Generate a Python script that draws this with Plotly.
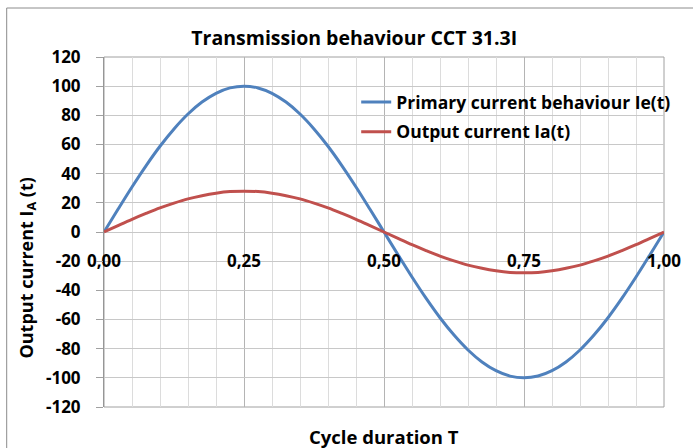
import plotly.graph_objects as go

# Data
cycle = [0.000, 0.025, 0.050, 0.075, 0.100, 0.125, 0.150, 0.175, 0.200, 0.225,
         0.250, 0.275, 0.300, 0.325, 0.350, 0.375, 0.400, 0.425, 0.450, 0.475,
         0.500, 0.525, 0.550, 0.575, 0.600, 0.625, 0.650, 0.675, 0.700, 0.725,
         0.750, 0.775, 0.800, 0.825, 0.850, 0.875, 0.900, 0.925, 0.950, 0.975, 1.000]
primary_ie = [0.0, 15.6, 30.9, 45.4, 58.8, 70.7, 80.9, 89.1, 95.1, 98.8,
              100.0, 98.8, 95.1, 89.1, 80.9, 70.7, 58.8, 45.4, 30.9, 15.6,
              0.0, -15.6, -30.9, -45.4, -58.8, -70.7, -80.9, -89.1, -95.1, -98.8,
              -100.0, -98.8, -95.1, -89.1, -80.9, -70.7, -58.8, -45.4, -30.9, -15.6, 0.0]
output_ia = [0.0, 4.4, 8.7, 12.7, 16.5, 19.8, 22.7, 24.9, 26.6, 27.7,
             28.0, 27.7, 26.6, 24.9, 22.7, 19.8, 16.5, 12.7, 8.7, 4.4,
             0.0, -4.4, -8.7, -12.7, -16.5, -19.8, -22.7, -24.9, -26.6, -27.7,
             -28.0, -27.7, -26.6, -24.9, -22.7, -19.8, -16.5, -12.7, -8.7, -4.4, 0.0]
x_ticks = [0.0, 0.25, 0.5, 0.75, 1.0]
x_tick_labels = ["0,00", "0,25", "0,50", "0,75", "1,00"]
y_ticks = list(range(-120, 121, 20))

FONT = "Open Sans"
W, H = 693, 448
ML, MR, MT, MB = 104, 25, 57, 41
PW, PH = W - ML - MR, H - MT - MB

fig = go.Figure()
fig.add_trace(go.Scatter(x=cycle, y=primary_ie, mode="lines", legendgroup="ie",
                         name="<b>Primary current behaviour Ie(t)</b>",
                         line=dict(color="#4F81BD", width=3, shape="spline")))
fig.add_trace(go.Scatter(x=cycle, y=output_ia, mode="lines", legendgroup="ia",
                         name="<b>Output current Ia(t)</b>",
                         line=dict(color="#C0504D", width=3, shape="spline")))

def px_x(p):
    return (p - ML) / PW

def px_y(p):
    return 1 - (p - MT) / PH

fig.update_layout(
    width=W, height=H,
    margin=dict(l=ML, r=MR, t=MT, b=MB, pad=0),
    paper_bgcolor="white", plot_bgcolor="white",
    font=dict(family=FONT, color="black"),
    title=dict(text="<b>Transmission behaviour CCT 31.3I</b>", x=px_x(356), xanchor="center",
               xref="paper", y=1 - 38 / H, yanchor="middle",
               font=dict(size=19.5, family=FONT, color="black")),
    showlegend=True,
    legend=dict(x=px_x(358), y=px_y(84), xanchor="left", yanchor="top",
                bgcolor="rgba(0,0,0,0)", font=dict(size=17.5, family=FONT, color="black"),
                itemwidth=30, tracegroupgap=4),
    xaxis=dict(range=[0, 1], tickvals=x_ticks, ticktext=["<b>%s</b>" % t for t in x_tick_labels],
               anchor="free", position=0.5, showline=False, zeroline=False,
               showgrid=True, gridcolor="#B4B4B4", gridwidth=1,
               minor=dict(dtick=0.05, showgrid=True, gridcolor="#DCDCDC", gridwidth=1),
               ticks="", ticklabelstandoff=17, tickfont=dict(size=17, family=FONT, color="black"),
               fixedrange=True),
    yaxis=dict(range=[-120, 120], tickvals=y_ticks, ticktext=["<b>%d</b>" % v for v in y_ticks],
               showgrid=True, gridcolor="#C8C8C8", gridwidth=1, zeroline=False,
               showline=True, linecolor="#969696", linewidth=1, mirror=False,
               ticks="outside", ticklen=7, tickcolor="#A0A0A0", tickwidth=1,
               ticklabelstandoff=12, tickfont=dict(size=17, family=FONT, color="black"),
               fixedrange=True),
    annotations=[
        dict(text="<b>Cycle duration T</b>", x=0.5, xref="paper", y=px_y(436), yref="paper",
             xanchor="center", yanchor="middle", showarrow=False,
             font=dict(size=18.5, family=FONT, color="black")),
        dict(text="<b>Output current I<sub>A</sub> (t)</b>", x=px_x(26), xref="paper",
             y=px_y(268), yref="paper", xanchor="center", yanchor="middle", textangle=-90,
             showarrow=False, font=dict(size=18, family=FONT, color="black")),
    ],
    shapes=[
        dict(type="rect", xref="paper", yref="paper", x0=px_x(6), x1=px_x(720), y0=px_y(470), y1=px_y(8),
             line=dict(color="#8C8C8C", width=1), fillcolor="rgba(0,0,0,0)", layer="below"),
        dict(type="rect", xref="paper", yref="paper", x0=0, x1=1, y0=0, y1=1,
             line=dict(color="#A0A0A0", width=1), fillcolor="rgba(0,0,0,0)", layer="below"),
    ],
)

fig.write_html("out.html", config={"displayModeBar": False},
               post_script="document.body.style.margin='0';document.body.style.overflow='hidden';")
